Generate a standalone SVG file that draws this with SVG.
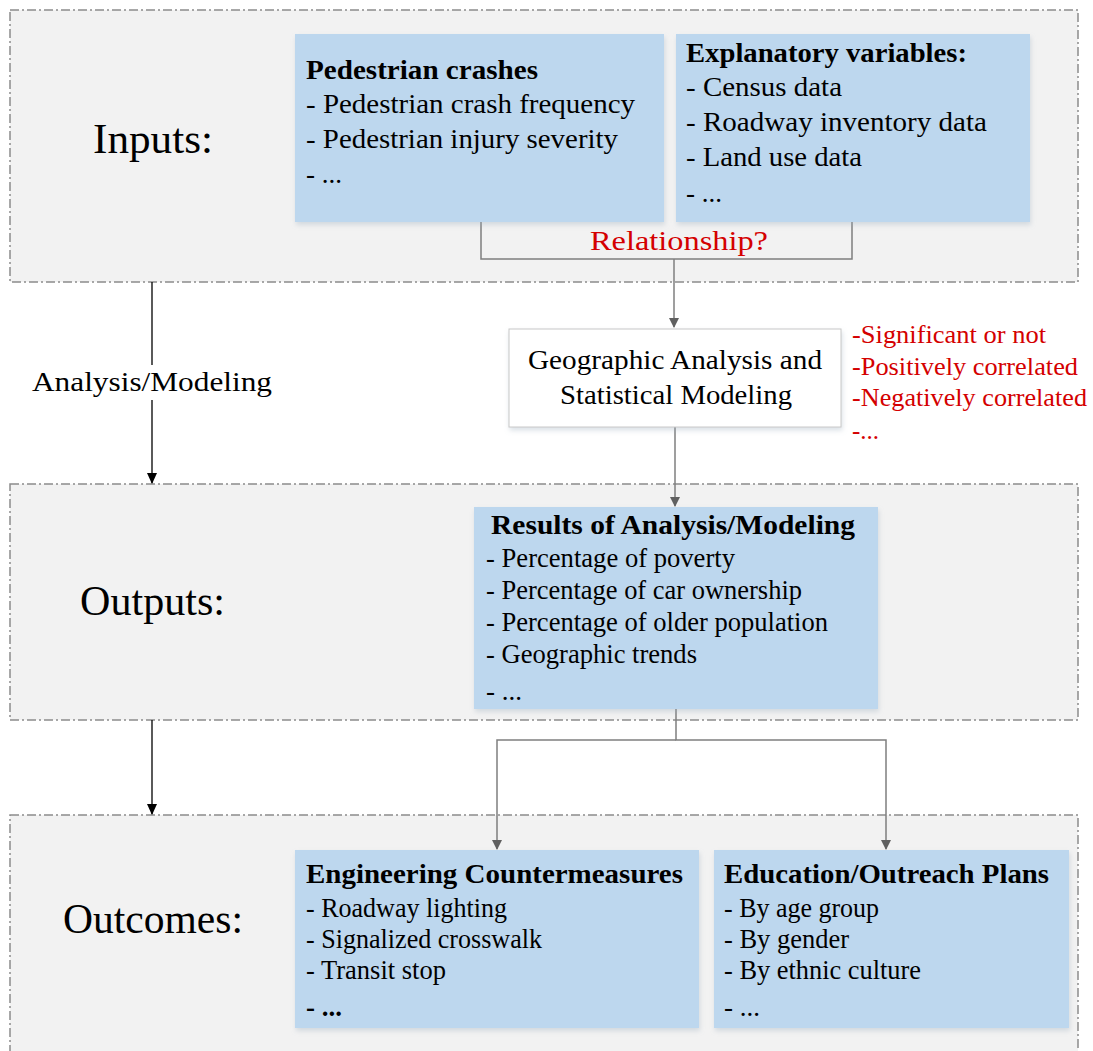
<svg xmlns="http://www.w3.org/2000/svg" width="1093" height="1051" viewBox="0 0 1093 1051" font-family="'Liberation Serif', 'DejaVu Serif', serif">
<style>
.panel{fill:#f2f2f2;stroke:#8c8c8c;stroke-width:1.5;stroke-dasharray:9,3,2,3}
.box{fill:#bdd7ee;filter:url(#sh)}
.wbox{fill:#ffffff;stroke:#c8c8c8;stroke-width:1;filter:url(#sh)}
text{font-family:'Liberation Serif','DejaVu Serif',serif;fill:#000}
.big{font-size:42px}
.t{font-size:27px}
.b{font-size:27px;font-weight:bold}
.r{font-size:25px;fill:#d40000}
.gl{fill:none;stroke:#7f7f7f;stroke-width:1.5}
.bl{fill:none;stroke:#000;stroke-width:1.3}
</style>
<defs>
<filter id="sh" x="-5%" y="-5%" width="115%" height="125%">
<feDropShadow dx="1" dy="3" stdDeviation="2.5" flood-color="#9ab" flood-opacity="0.35"/>
</filter>
<marker id="ag" markerWidth="10" markerHeight="10" refX="9" refY="5" orient="auto" markerUnits="userSpaceOnUse"><path d="M0,0 L10,5 L0,10 z" fill="#606060"/></marker>
<marker id="ab" markerWidth="11" markerHeight="10" refX="10" refY="5" orient="auto" markerUnits="userSpaceOnUse"><path d="M0,0 L11,5 L0,10 z" fill="#000"/></marker>
</defs>

<g id="panel-inputs">
<rect class="panel" x="10" y="10" width="1068" height="272"/>
<text class="big" x="93" y="153" textLength="120" lengthAdjust="spacingAndGlyphs">Inputs:</text>
</g>
<g id="panel-outputs">
<rect class="panel" x="10" y="484" width="1068" height="236"/>
<text class="big" x="80" y="615" textLength="145" lengthAdjust="spacingAndGlyphs">Outputs:</text>
</g>
<g id="panel-outcomes">
<rect class="panel" x="10" y="815" width="1068" height="250"/>
<text class="big" x="63" y="933" textLength="180" lengthAdjust="spacingAndGlyphs">Outcomes:</text>
</g>

<g id="connectors">
<path class="gl" d="M481,222 V259 H852 V222"/>
<path class="gl" d="M674,259 V327" marker-end="url(#ag)"/>
<path class="gl" d="M675,427 V506" marker-end="url(#ag)"/>
<path class="gl" d="M676,709 V740 H886 V849" marker-end="url(#ag)"/>
<path class="gl" d="M676,740 H497 V849" marker-end="url(#ag)"/>
<path class="bl" d="M152,282 V365"/>
<path class="bl" d="M152,400 V483" marker-end="url(#ab)"/>
<path class="bl" d="M152,720 V814" marker-end="url(#ab)"/>
<text class="t" x="590" y="250" style="fill:#d40000" textLength="178" lengthAdjust="spacingAndGlyphs">Relationship?</text>
<text class="t" x="32" y="391" textLength="240" lengthAdjust="spacingAndGlyphs">Analysis/Modeling</text>
</g>

<g id="node-pedestrian-crashes">
<rect class="box" x="295" y="34" width="369" height="188"/>
<text class="b" x="306" y="79" textLength="232" lengthAdjust="spacingAndGlyphs">Pedestrian crashes</text>
<text class="t" x="306" y="113" textLength="329" lengthAdjust="spacingAndGlyphs">- Pedestrian crash frequency</text>
<text class="t" x="306" y="148" textLength="312" lengthAdjust="spacingAndGlyphs">- Pedestrian injury severity</text>
<text class="t" x="306" y="183">- ...</text>
</g>

<g id="node-explanatory">
<rect class="box" x="676" y="34" width="354" height="188"/>
<text class="b" x="686" y="62" textLength="281" lengthAdjust="spacingAndGlyphs">Explanatory variables:</text>
<text class="t" x="686" y="96" textLength="156" lengthAdjust="spacingAndGlyphs">- Census data</text>
<text class="t" x="686" y="131" textLength="301" lengthAdjust="spacingAndGlyphs">- Roadway inventory data</text>
<text class="t" x="686" y="166" textLength="176" lengthAdjust="spacingAndGlyphs">- Land use data</text>
<text class="t" x="686" y="202">- ...</text>
</g>

<g id="node-geographic">
<rect class="wbox" x="509" y="329" width="332" height="98"/>
<text class="t" x="528" y="369" textLength="294" lengthAdjust="spacingAndGlyphs">Geographic Analysis and</text>
<text class="t" x="560" y="404" textLength="232" lengthAdjust="spacingAndGlyphs">Statistical Modeling</text>
</g>

<g id="node-relationship-notes">
<text class="r" x="852" y="343" textLength="194" lengthAdjust="spacingAndGlyphs">-Significant or not</text>
<text class="r" x="852" y="375" textLength="226" lengthAdjust="spacingAndGlyphs">-Positively correlated</text>
<text class="r" x="852" y="406" textLength="235" lengthAdjust="spacingAndGlyphs">-Negatively correlated</text>
<text class="r" x="852" y="439">-...</text>
</g>

<g id="node-results">
<rect class="box" x="474" y="507" width="404" height="202"/>
<text class="b" x="491" y="534" textLength="364" lengthAdjust="spacingAndGlyphs">Results of Analysis/Modeling</text>
<text class="t" x="486" y="567" textLength="249" lengthAdjust="spacingAndGlyphs">- Percentage of poverty</text>
<text class="t" x="486" y="599" textLength="316" lengthAdjust="spacingAndGlyphs">- Percentage of car ownership</text>
<text class="t" x="486" y="631" textLength="342" lengthAdjust="spacingAndGlyphs">- Percentage of older population</text>
<text class="t" x="486" y="663" textLength="211" lengthAdjust="spacingAndGlyphs">- Geographic trends</text>
<text class="t" x="486" y="700">- ...</text>
</g>

<g id="node-engineering">
<rect class="box" x="295" y="850" width="404" height="178"/>
<text class="b" x="306" y="883" textLength="377" lengthAdjust="spacingAndGlyphs">Engineering Countermeasures</text>
<text class="t" x="306" y="917" textLength="201" lengthAdjust="spacingAndGlyphs">- Roadway lighting</text>
<text class="t" x="306" y="948" textLength="236" lengthAdjust="spacingAndGlyphs">- Signalized crosswalk</text>
<text class="t" x="306" y="979" textLength="140" lengthAdjust="spacingAndGlyphs">- Transit stop</text>
<text class="b" x="306" y="1016">- ...</text>
</g>

<g id="node-education">
<rect class="box" x="714" y="850" width="355" height="178"/>
<text class="b" x="724" y="883" textLength="325" lengthAdjust="spacingAndGlyphs">Education/Outreach Plans</text>
<text class="t" x="724" y="917" textLength="155" lengthAdjust="spacingAndGlyphs">- By age group</text>
<text class="t" x="724" y="948" textLength="125" lengthAdjust="spacingAndGlyphs">- By gender</text>
<text class="t" x="724" y="979" textLength="197" lengthAdjust="spacingAndGlyphs">- By ethnic culture</text>
<text class="t" x="724" y="1016">- ...</text>
</g>
</svg>
